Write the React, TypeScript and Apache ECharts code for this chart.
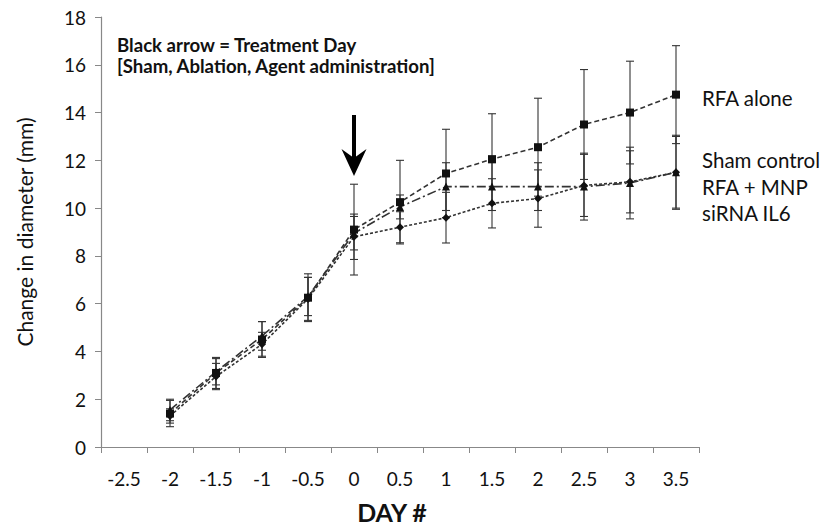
import React, { useEffect, useRef } from "react";
import * as echarts from "echarts";

const dayLabels = ["-2.5", "-2", "-1.5", "-1", "-0.5", "0", "0.5", "1", "1.5", "2", "2.5", "3", "3.5"];
const measuredDays = ["-2", "-1.5", "-1", "-0.5", "0", "0.5", "1", "1.5", "2", "2.5", "3", "3.5"];

const rfaAlone = [1.4, 3.1, 4.5, 6.25, 9.1, 10.25, 11.45, 12.05, 12.55, 13.5, 14.0, 14.75];
const rfaAloneErr = [0.55, 0.65, 0.75, 1.0, 1.9, 1.75, 1.85, 1.9, 2.05, 2.3, 2.15, 2.05];

const shamControl = [1.55, 3.15, 4.65, 6.3, 8.95, 10.05, 10.9, 10.9, 10.9, 10.9, 11.05, 11.5];
const shamControlErr = [0.45, 0.55, 0.6, 0.8, 0.7, 0.5, 1.0, 1.0, 1.0, 1.4, 1.5, 1.55];

const sirnaIL6 = [1.3, 2.95, 4.3, 6.2, 8.8, 9.2, 9.6, 10.2, 10.4, 10.95, 11.1, 11.5];
const sirnaIL6Err = [0.3, 0.55, 0.5, 0.9, 0.95, 0.65, 1.06, 1.03, 1.2, 1.3, 1.3, 1.5];

const endLabels = [
  { text: "RFA alone", value: 14.62 },
  { text: "Sham control", value: 12.03 },
  { text: "RFA + MNP", value: 10.9 },
  { text: "siRNA IL6", value: 9.8 },
];

const FONT = "Lato, 'Open Sans', sans-serif";

function pairs(vals: number[]) {
  return vals.map((v, i) => [measuredDays[i], v]);
}
function errData(vals: number[], errs: number[]) {
  return vals.map((v, i) => [dayLabels.indexOf(measuredDays[i]), v - errs[i], v + errs[i]]);
}

const errRender = (params: any, api: any) => {
  const lo = api.coord([api.value(0), api.value(1)]);
  const hi = api.coord([api.value(0), api.value(2)]);
  const w = 4;
  const style = { stroke: "#333", lineWidth: 1.1 };
  return {
    type: "group",
    children: [
      { type: "line", shape: { x1: lo[0], y1: lo[1], x2: hi[0], y2: hi[1] }, style },
      { type: "line", shape: { x1: lo[0] - w, y1: lo[1], x2: lo[0] + w, y2: lo[1] }, style },
      { type: "line", shape: { x1: hi[0] - w, y1: hi[1], x2: hi[0] + w, y2: hi[1] }, style },
    ],
  };
};

export default function App() {
  const ref = useRef<HTMLDivElement>(null);
  useEffect(() => {
    const chart = echarts.init(ref.current!, null, { renderer: "svg" });
    const lineBase = {
      type: "line" as const,
      z: 3,
      itemStyle: { color: "#111" },
    };
    chart.setOption({
      animation: false,
      grid: { left: 101, right: 128, top: 17, bottom: 81 },
      xAxis: {
        type: "category",
        data: dayLabels,
        boundaryGap: true,
        name: "DAY #",
        nameLocation: "middle",
        nameGap: 52,
        nameTextStyle: {
          fontFamily: FONT,
          fontWeight: "bold",
          fontSize: 25,
          color: "#111",
          padding: [0, 16, 0, 0],
        },
        axisLine: { lineStyle: { color: "#888", width: 1.2 } },
        axisTick: { show: true, length: 6, lineStyle: { color: "#888" } },
        axisLabel: { fontFamily: FONT, fontSize: 19, color: "#111", margin: 22 },
      },
      yAxis: {
        type: "value",
        min: 0,
        max: 18,
        interval: 2,
        name: "Change in diameter (mm)",
        nameLocation: "middle",
        nameGap: 66,
        nameTextStyle: { fontFamily: FONT, fontSize: 21, color: "#111" },
        axisLine: { show: true, lineStyle: { color: "#888", width: 1.2 } },
        axisTick: { show: true, length: 6, lineStyle: { color: "#888" } },
        splitLine: { show: false },
        axisLabel: { fontFamily: FONT, fontSize: 19, color: "#111", margin: 15 },
      },
      series: [
        { type: "custom", renderItem: errRender, data: errData(rfaAlone, rfaAloneErr), z: 2 },
        { type: "custom", renderItem: errRender, data: errData(shamControl, shamControlErr), z: 2 },
        { type: "custom", renderItem: errRender, data: errData(sirnaIL6, sirnaIL6Err), z: 2 },
        {
          ...lineBase,
          name: "RFA alone",
          data: pairs(rfaAlone),
          symbol: "rect",
          symbolSize: 8,
          lineStyle: { color: "#333", width: 1.6, type: [5, 3] },
        },
        {
          ...lineBase,
          name: "Sham control",
          data: pairs(shamControl),
          symbol: "triangle",
          symbolSize: 8,
          lineStyle: { color: "#333", width: 1.6, type: [9, 3, 2, 3] },
        },
        {
          ...lineBase,
          name: "siRNA IL6",
          data: pairs(sirnaIL6),
          symbol: "diamond",
          symbolSize: 8,
          lineStyle: { color: "#333", width: 1.6, type: [3, 2] },
        },
      ],
    });

    const x0 = chart.convertToPixel({ xAxisIndex: 0 }, "0") as number;
    const labelX = 702;
    chart.setOption({
      graphic: [
        {
          type: "text",
          left: 117,
          top: 34,
          style: {
            text: "Black arrow = Treatment Day\n[Sham, Ablation, Agent administration]",
            fontFamily: FONT,
            fontWeight: "bold",
            fontSize: 18.6,
            lineHeight: 21,
            fill: "#111",
          },
        },
        {
          type: "rect",
          shape: { x: x0 - 2, y: 115, width: 4, height: 44 },
          style: { fill: "#000" },
        },
        {
          type: "polygon",
          shape: {
            points: [
              [x0 - 12.5, 149],
              [x0, 158],
              [x0 + 12.5, 149],
              [x0, 176],
            ],
          },
          style: { fill: "#000" },
        },
        ...endLabels.map((l) => ({
          type: "text",
          x: labelX,
          y: chart.convertToPixel({ yAxisIndex: 0 }, l.value) as number,
          style: {
            text: l.text,
            fontFamily: FONT,
            fontSize: 20.5,
            fill: "#111",
            verticalAlign: "middle",
          },
        })),
      ],
    });
    return () => chart.dispose();
  }, []);
  return (
    <div
      ref={ref}
      style={{ position: "absolute", left: 0, top: 0, width: 827, height: 529, background: "#fff" }}
    />
  );
}
